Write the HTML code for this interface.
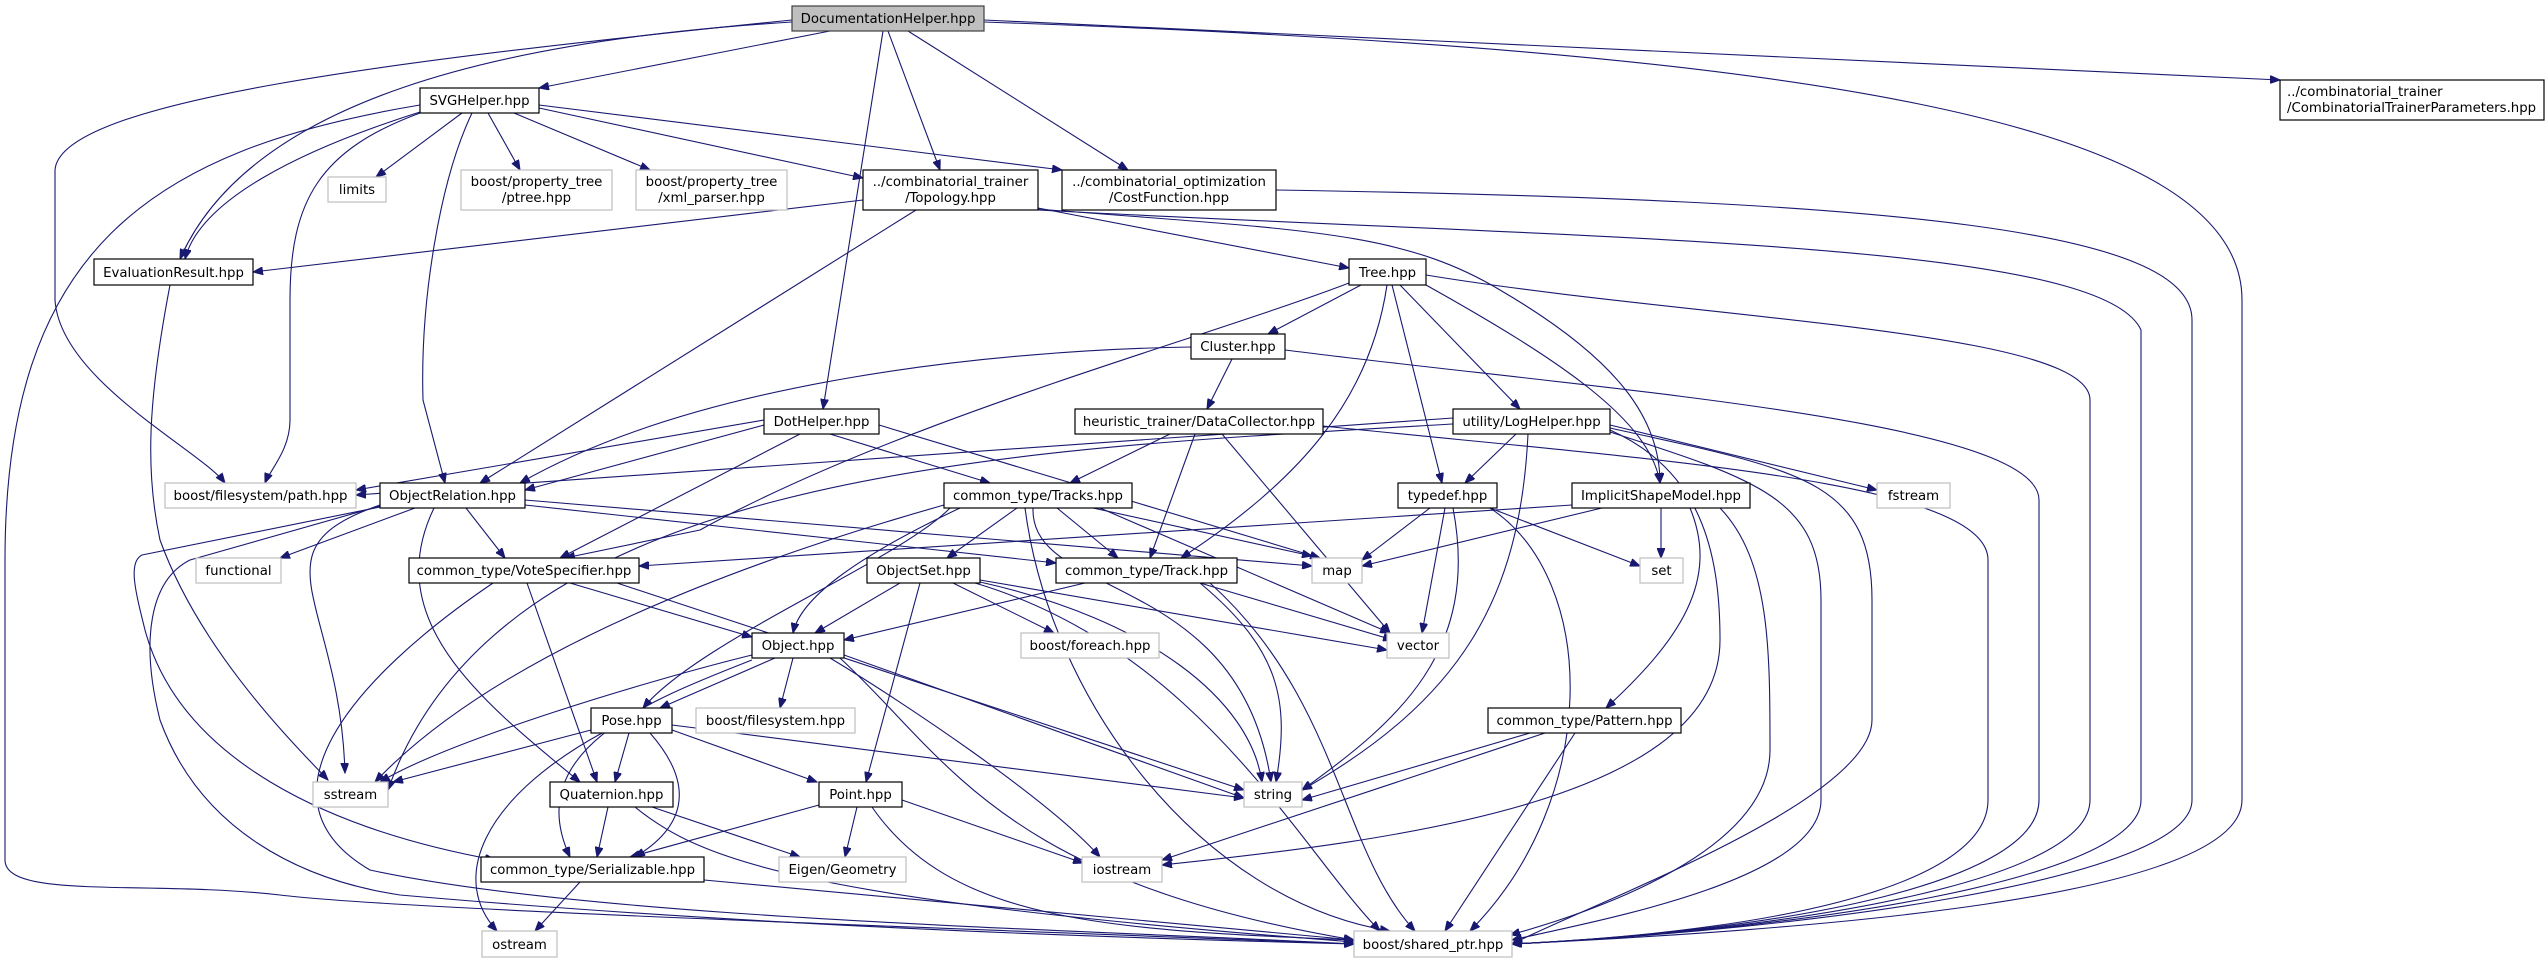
<!DOCTYPE html>
<html><head><meta charset="utf-8"><style>
html,body{margin:0;padding:0;background:#fff;}
svg{display:block;}
text{font-family:"DejaVu Sans","Liberation Sans",sans-serif;font-size:13.3px;fill:#000;}
.b{fill:#fff;stroke:#000;stroke-width:1.2;}
.g{fill:#fff;stroke:#bfbfbf;stroke-width:1.2;}
.r{fill:#bfbfbf;stroke:#404040;stroke-width:1.2;}
path.e{fill:none;stroke:#191970;stroke-width:1.1;marker-end:url(#a);}
</style></head><body>
<svg width="2548" height="963" viewBox="0 0 2548 963" xmlns="http://www.w3.org/2000/svg">
<defs><marker id="a" markerUnits="userSpaceOnUse" markerWidth="11" markerHeight="8" refX="10" refY="4" orient="auto"><path d="M0,0 L10,4 L0,8 z" fill="#191970" stroke="#191970"/></marker></defs>
<g>
<path class="e" d="M830,31 L539,88"/>
<path class="e" d="M792,22 C500,40 250,100 180,259"/>
<path class="e" d="M792,20 C400,60 60,100 55,170 L55,300 C60,380 200,450 225,483"/>
<path class="e" d="M888,31 L940,170"/>
<path class="e" d="M883,31 L823,409"/>
<path class="e" d="M908,31 L1128,170"/>
<path class="e" d="M984,20 L2280,80"/>
<path class="e" d="M984,22 C1800,50 2242,120 2242,300 L2242,800 C2242,900 1800,930 1512,944"/>
<path class="e" d="M420,112 C300,150 200,200 185,259"/>
<path class="e" d="M420,105 C150,150 5,250 5,560 L5,860 C5,900 150,880 280,895 C400,910 1000,930 1354,944"/>
<path class="e" d="M462,113 L376,177"/>
<path class="e" d="M488,113 L520,170"/>
<path class="e" d="M514,113 L650,170"/>
<path class="e" d="M539,108 L863,178"/>
<path class="e" d="M539,105 L1062,170"/>
<path class="e" d="M420,113 C320,150 290,200 290,300 L290,420 C290,450 270,470 265,483"/>
<path class="e" d="M472,113 C440,180 420,300 423,400 L445,483"/>
<path class="e" d="M170,285 C148,400 145,470 160,540 C200,650 290,740 328,780"/>
<path class="e" d="M863,200 L253,272"/>
<path class="e" d="M916,210 L480,483"/>
<path class="e" d="M1038,208 L1349,268"/>
<path class="e" d="M1038,209 C1300,230 1400,230 1500,290 C1620,360 1660,420 1660,483"/>
<path class="e" d="M1038,210 C1600,240 2100,240 2141,330 L2141,800 C2141,880 1800,930 1512,944"/>
<path class="e" d="M1276,190 C1900,200 2192,230 2192,320 L2192,800 C2192,880 1800,930 1512,944"/>
<path class="e" d="M1361,285 L1268,334"/>
<path class="e" d="M1349,283 C1200,340 900,420 700,530 L565,558"/>
<path class="e" d="M1387,285 C1370,400 1300,480 1181,558"/>
<path class="e" d="M1392,285 L1442,483"/>
<path class="e" d="M1400,285 L1520,409"/>
<path class="e" d="M1426,285 C1560,360 1650,420 1660,483"/>
<path class="e" d="M1426,275 C1700,320 2090,330 2090,400 L2090,800 C2090,880 1800,930 1512,944"/>
<path class="e" d="M1191,347 C1000,350 700,380 520,483"/>
<path class="e" d="M1232,359 L1207,409"/>
<path class="e" d="M1285,350 C1600,390 2039,420 2039,500 L2039,800 C2039,880 1800,930 1512,944"/>
<path class="e" d="M1170,434 L1070,483"/>
<path class="e" d="M1195,434 L1150,558"/>
<path class="e" d="M1222,434 L1390,633"/>
<path class="e" d="M1323,426 C1650,460 1988,480 1988,560 L1988,800 C1988,880 1800,930 1512,944"/>
<path class="e" d="M1516,434 L1465,483"/>
<path class="e" d="M1453,418 L356,495"/>
<path class="e" d="M1453,424 C1000,450 500,470 388,790"/>
<path class="e" d="M1528,434 C1520,600 1460,700 1302,790"/>
<path class="e" d="M1610,425 L1877,490"/>
<path class="e" d="M1610,430 C1700,470 1720,550 1720,640 C1720,800 1400,840 1162,865"/>
<path class="e" d="M1610,428 C1800,470 1872,480 1872,600 L1872,720 C1872,800 1600,900 1512,944"/>
<path class="e" d="M1610,432 C1760,480 1821,500 1821,600 L1821,800 C1821,880 1600,920 1512,940"/>
<path class="e" d="M1661,508 L1661,558"/>
<path class="e" d="M1690,508 C1720,580 1680,640 1606,708"/>
<path class="e" d="M1602,508 L1362,566"/>
<path class="e" d="M1572,505 L639,566"/>
<path class="e" d="M1720,508 C1770,560 1770,650 1770,750 C1770,850 1600,910 1510,935"/>
<path class="e" d="M764,420 L356,490"/>
<path class="e" d="M764,425 L525,490"/>
<path class="e" d="M800,434 L560,558"/>
<path class="e" d="M830,434 L990,483"/>
<path class="e" d="M879,425 L1320,558"/>
<path class="e" d="M415,508 L280,558"/>
<path class="e" d="M466,508 L505,558"/>
<path class="e" d="M380,505 C250,550 340,600 345,773"/>
<path class="e" d="M434,508 C380,620 480,700 580,782"/>
<path class="e" d="M380,507 L142,555 C128,562 135,590 145,630 C180,760 330,830 495,860"/>
<path class="e" d="M380,506 L190,560 C150,580 140,640 160,720 C200,830 300,880 400,895 C800,930 1200,940 1354,944"/>
<path class="e" d="M525,500 L1312,566"/>
<path class="e" d="M525,505 L1056,563"/>
<path class="e" d="M570,583 L752,637"/>
<path class="e" d="M527,583 L597,782"/>
<path class="e" d="M617,583 L1244,790"/>
<path class="e" d="M493,583 C350,680 250,800 370,870 C600,920 1100,930 1354,944"/>
<path class="e" d="M1017,508 L947,558"/>
<path class="e" d="M1057,508 L1118,558"/>
<path class="e" d="M1093,508 L1312,556"/>
<path class="e" d="M1100,508 L1390,633"/>
<path class="e" d="M960,508 C850,560 800,600 793,633"/>
<path class="e" d="M950,508 C900,560 700,640 643,708"/>
<path class="e" d="M944,505 C750,560 500,650 375,782"/>
<path class="e" d="M1033,508 C1030,600 1240,570 1271,782"/>
<path class="e" d="M1025,508 C1050,700 1200,900 1390,931"/>
<path class="e" d="M900,583 L815,633"/>
<path class="e" d="M953,583 L1054,633"/>
<path class="e" d="M920,583 L866,782"/>
<path class="e" d="M980,580 L1387,650"/>
<path class="e" d="M980,582 C1150,620 1250,700 1262,782"/>
<path class="e" d="M975,583 C1200,650 1300,850 1380,931"/>
<path class="e" d="M1085,583 L844,640"/>
<path class="e" d="M1200,583 L1393,640"/>
<path class="e" d="M1200,583 C1280,650 1290,700 1276,782"/>
<path class="e" d="M1210,583 C1340,700 1340,850 1415,931"/>
<path class="e" d="M1430,508 L1362,560"/>
<path class="e" d="M1445,508 L1422,633"/>
<path class="e" d="M1490,508 L1640,566"/>
<path class="e" d="M1453,508 C1480,650 1400,720 1302,790"/>
<path class="e" d="M1490,508 C1600,580 1600,800 1470,931"/>
<path class="e" d="M775,658 L660,708"/>
<path class="e" d="M793,658 L780,708"/>
<path class="e" d="M752,655 C650,680 450,740 380,782"/>
<path class="e" d="M844,655 L1244,798"/>
<path class="e" d="M830,658 C900,700 1050,800 1100,857"/>
<path class="e" d="M752,660 C650,700 520,750 570,857"/>
<path class="e" d="M840,658 C950,760 1000,880 1354,940"/>
<path class="e" d="M629,733 L615,782"/>
<path class="e" d="M672,730 L817,782"/>
<path class="e" d="M591,730 L393,782"/>
<path class="e" d="M672,725 L1244,798"/>
<path class="e" d="M650,733 C700,790 680,830 635,857"/>
<path class="e" d="M602,733 C480,800 450,880 497,931"/>
<path class="e" d="M608,807 L597,857"/>
<path class="e" d="M652,807 L800,857"/>
<path class="e" d="M635,807 C700,860 800,900 1354,942"/>
<path class="e" d="M819,805 L630,857"/>
<path class="e" d="M857,807 L845,857"/>
<path class="e" d="M902,800 L1083,863"/>
<path class="e" d="M872,807 C950,920 1100,930 1354,940"/>
<path class="e" d="M580,882 L535,931"/>
<path class="e" d="M704,880 L1354,940"/>
<path class="e" d="M1530,733 L1302,800"/>
<path class="e" d="M1545,733 L1162,860"/>
<path class="e" d="M1575,733 L1445,931"/>
</g>
<g text-anchor="middle">
<rect class="r" x="792" y="6" width="192" height="25"/><text x="888" y="23">DocumentationHelper.hpp</text>
<rect class="b" x="420" y="88" width="119" height="25"/><text x="479.5" y="105">SVGHelper.hpp</text>
<rect class="g" x="328" y="177" width="58" height="25"/><text x="357" y="194">limits</text>
<rect class="g" x="461" y="170" width="151" height="40"/><text x="536.5" y="186">boost/property_tree</text><text x="536.5" y="202">/ptree.hpp</text>
<rect class="g" x="636" y="170" width="151" height="40"/><text x="711.5" y="186">boost/property_tree</text><text x="711.5" y="202">/xml_parser.hpp</text>
<rect class="b" x="863" y="170" width="175" height="40"/><text x="950.5" y="186">../combinatorial_trainer</text><text x="950.5" y="202">/Topology.hpp</text>
<rect class="b" x="1062" y="170" width="214" height="40"/><text x="1169" y="186">../combinatorial_optimization</text><text x="1169" y="202">/CostFunction.hpp</text>
<rect class="b" x="2280" y="80" width="264" height="40"/><text x="2287" y="96" text-anchor="start">../combinatorial_trainer</text><text x="2287" y="112" text-anchor="start">/CombinatorialTrainerParameters.hpp</text>
<rect class="b" x="94" y="259" width="159" height="26"/><text x="173.5" y="277">EvaluationResult.hpp</text>
<rect class="b" x="1349" y="259" width="77" height="26"/><text x="1387.5" y="277">Tree.hpp</text>
<rect class="b" x="1191" y="334" width="94" height="25"/><text x="1238" y="351">Cluster.hpp</text>
<rect class="b" x="764" y="409" width="115" height="25"/><text x="821.5" y="426">DotHelper.hpp</text>
<rect class="b" x="1075" y="409" width="248" height="25"/><text x="1199" y="426">heuristic_trainer/DataCollector.hpp</text>
<rect class="b" x="1453" y="409" width="157" height="25"/><text x="1531.5" y="426">utility/LogHelper.hpp</text>
<rect class="g" x="165" y="483" width="191" height="25"/><text x="260.5" y="500">boost/filesystem/path.hpp</text>
<rect class="b" x="380" y="483" width="145" height="25"/><text x="452.5" y="500">ObjectRelation.hpp</text>
<rect class="b" x="944" y="483" width="188" height="25"/><text x="1038" y="500">common_type/Tracks.hpp</text>
<rect class="b" x="1398" y="483" width="99" height="25"/><text x="1447.5" y="500">typedef.hpp</text>
<rect class="b" x="1572" y="483" width="178" height="25"/><text x="1661" y="500">ImplicitShapeModel.hpp</text>
<rect class="g" x="1877" y="483" width="73" height="25"/><text x="1913.5" y="500">fstream</text>
<rect class="g" x="196" y="558" width="85" height="25"/><text x="238.5" y="575">functional</text>
<rect class="b" x="409" y="558" width="230" height="25"/><text x="524" y="575">common_type/VoteSpecifier.hpp</text>
<rect class="b" x="867" y="558" width="113" height="25"/><text x="923.5" y="575">ObjectSet.hpp</text>
<rect class="b" x="1056" y="558" width="181" height="25"/><text x="1146.5" y="575">common_type/Track.hpp</text>
<rect class="g" x="1312" y="558" width="50" height="25"/><text x="1337" y="575">map</text>
<rect class="g" x="1640" y="558" width="43" height="25"/><text x="1661.5" y="575">set</text>
<rect class="b" x="752" y="633" width="92" height="25"/><text x="798" y="650">Object.hpp</text>
<rect class="g" x="1021" y="633" width="138" height="25"/><text x="1090" y="650">boost/foreach.hpp</text>
<rect class="g" x="1387" y="633" width="62" height="25"/><text x="1418" y="650">vector</text>
<rect class="b" x="591" y="708" width="81" height="25"/><text x="631.5" y="725">Pose.hpp</text>
<rect class="g" x="696" y="708" width="159" height="25"/><text x="775.5" y="725">boost/filesystem.hpp</text>
<rect class="b" x="1488" y="708" width="193" height="25"/><text x="1584.5" y="725">common_type/Pattern.hpp</text>
<rect class="g" x="313" y="782" width="75" height="25"/><text x="350.5" y="799">sstream</text>
<rect class="b" x="550" y="782" width="123" height="25"/><text x="611.5" y="799">Quaternion.hpp</text>
<rect class="b" x="819" y="782" width="83" height="25"/><text x="860.5" y="799">Point.hpp</text>
<rect class="g" x="1244" y="782" width="58" height="25"/><text x="1273" y="799">string</text>
<rect class="b" x="481" y="857" width="223" height="25"/><text x="592.5" y="874">common_type/Serializable.hpp</text>
<rect class="g" x="779" y="857" width="127" height="25"/><text x="842.5" y="874">Eigen/Geometry</text>
<rect class="g" x="1082" y="857" width="80" height="25"/><text x="1122" y="874">iostream</text>
<rect class="g" x="482" y="931" width="75" height="26"/><text x="519.5" y="949">ostream</text>
<rect class="g" x="1354" y="931" width="158" height="26"/><text x="1433" y="949">boost/shared_ptr.hpp</text>
</g>
</svg>
</body></html>
